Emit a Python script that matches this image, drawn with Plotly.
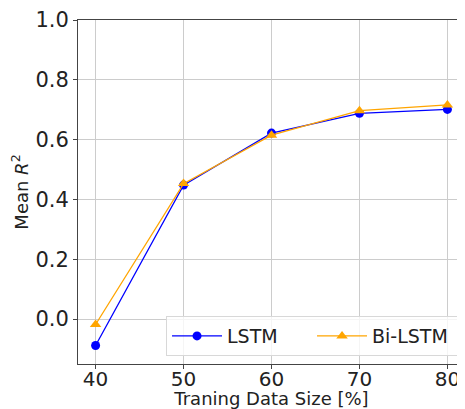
import plotly.graph_objects as go

sizes = [40, 50, 60, 70, 80]
lstm = [-0.088, 0.448, 0.622, 0.688, 0.701]
bilstm = [-0.018, 0.453, 0.615, 0.697, 0.716]
y_ticks = [0.0, 0.2, 0.4, 0.6, 0.8, 1.0]
x_ticks = [40, 50, 60, 70, 80]

fig = go.Figure()
fig.add_trace(go.Scatter(x=sizes, y=lstm, mode="lines+markers", name="LSTM",
                         line=dict(color="blue", width=1.3),
                         marker=dict(symbol="circle", size=9, color="blue")))
fig.add_trace(go.Scatter(x=sizes, y=bilstm, mode="lines+markers", name="Bi-LSTM",
                         line=dict(color="orange", width=1.3),
                         marker=dict(symbol="triangle-up", size=10, color="orange")))

font = "DejaVu Sans"
fig.update_layout(
    width=457, height=401,
    margin=dict(l=70, r=0, t=12, b=45, autoexpand=False),
    paper_bgcolor="white", plot_bgcolor="white",
    font=dict(family=font, color="#222"),
    showlegend=True,
    legend=dict(orientation="h", x=0.982, xanchor="right", y=0.023, yanchor="bottom",
                bordercolor="#d8d8d8", borderwidth=1, bgcolor="rgba(255,255,255,0.8)",
                font=dict(size=19, family=font, color="#222"),
                entrywidth=80, itemwidth=50),
    xaxis=dict(range=[38, 82], tickvals=x_ticks, ticktext=[str(v) for v in x_ticks],
               automargin=True,
               showgrid=True, gridcolor="#cccccc", gridwidth=1,
               showline=True, linecolor="#444", linewidth=1, mirror=True,
               ticks="outside", ticklen=4, tickcolor="#444", ticklabelstandoff=-7,
               tickfont=dict(size=20, family=font, color="#222"),
               title=dict(text="Traning Data Size [%]", font=dict(size=18, family=font, color="#222"), standoff=7),
               zeroline=False),
    yaxis=dict(range=[-0.15, 1.0], tickvals=y_ticks, ticktext=[f"{v:.1f}" for v in y_ticks],
               automargin=True,
               showgrid=True, gridcolor="#cccccc", gridwidth=1,
               showline=True, linecolor="#444", linewidth=1, mirror=True,
               ticks="outside", ticklen=4, tickcolor="#444",
               tickfont=dict(size=21, family=font, color="#222"),
               title=dict(text="Mean <i>R</i><sup>2</sup>", font=dict(size=18, family=font, color="#222"), standoff=8),
               zeroline=False),
)
fig.write_html("out.html")
